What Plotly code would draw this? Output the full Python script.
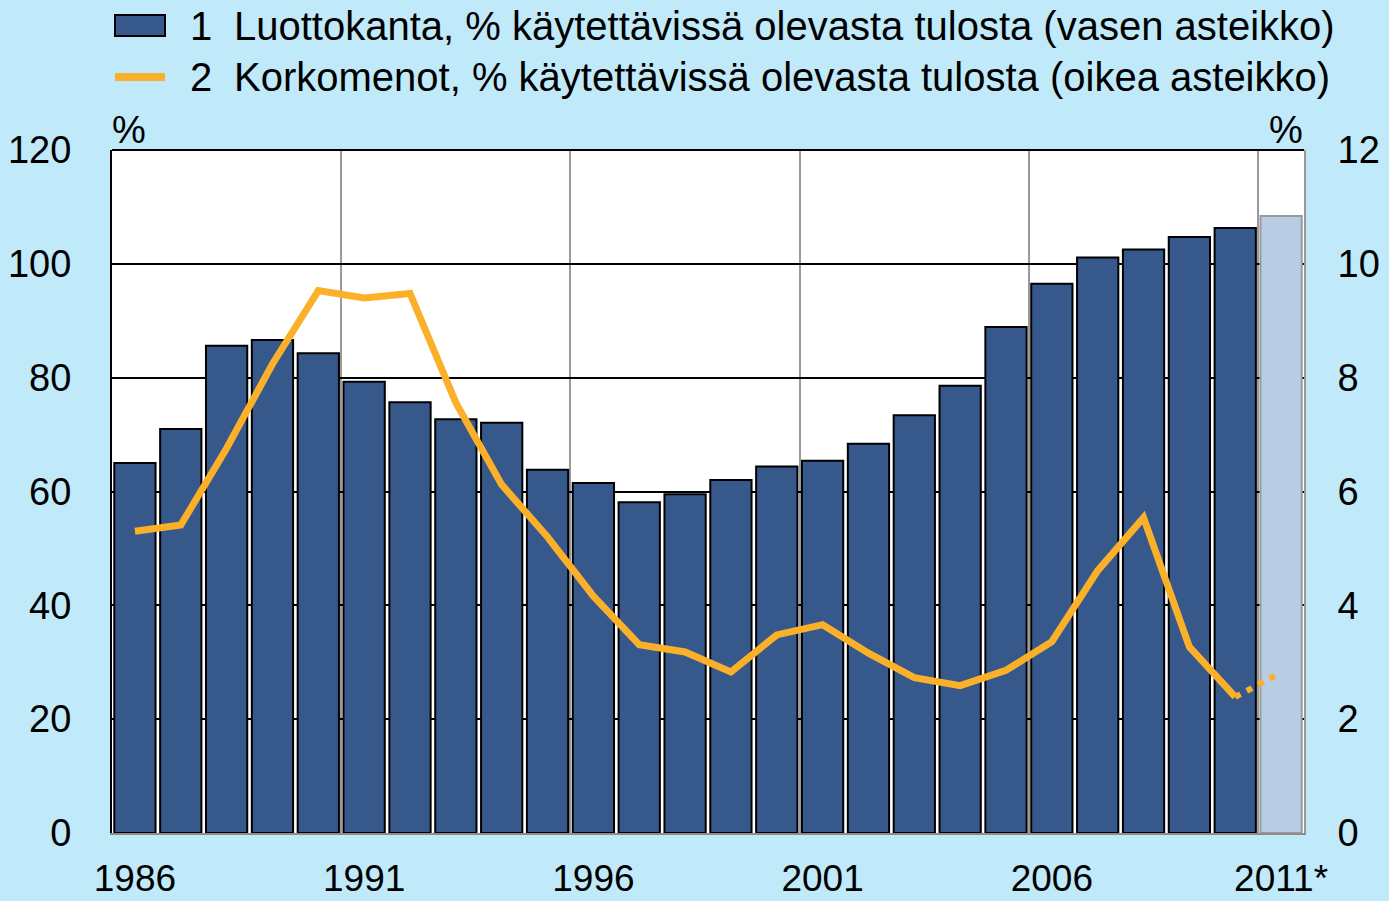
import plotly.graph_objects as go

years = list(range(1986, 2012))
luottokanta = [65.0, 71.0, 85.6, 86.6, 84.3, 79.3, 75.7, 72.7, 72.1, 63.8,
               61.5, 58.1, 59.5, 62.0, 64.4, 65.4, 68.4, 73.4, 78.6, 88.9,
               96.5, 101.1, 102.5, 104.7, 106.3, 108.4]
korkomenot = [5.30, 5.41, 6.76, 8.24, 9.53, 9.40, 9.48, 7.56, 6.12, 5.20,
              4.16, 3.31, 3.18, 2.83, 3.48, 3.66, 3.16, 2.73, 2.59, 2.86,
              3.36, 4.61, 5.54, 3.27, 2.39]
korkomenot_ennuste = [2.39, 2.82]
ennuste_years = [2010, 2011]
tick_years = [1986, 1991, 1996, 2001, 2006, 2011]
tick_text = ["1986", "1991", "1996", "2001", "2006", "2011*"]
left_ticks = [0, 20, 40, 60, 80, 100, 120]
right_ticks = [0, 2, 4, 6, 8, 10, 12]
legend_1 = "Luottokanta, % käytettävissä olevasta tulosta (vasen asteikko)"
legend_2 = "Korkomenot, % käytettävissä olevasta tulosta (oikea asteikko)"

BAR = "#36588b"
BAR_FC = "#b8cce4"
ORANGE = "#fbb02a"
BG = "#c0e9f9"
FONT = "Liberation Sans, Arial, sans-serif"

bar_colors = [BAR if y < 2011 else BAR_FC for y in years]
bar_lines = ["#000000" if y < 2011 else "#9a9a9a" for y in years]

fig = go.Figure()
fig.add_trace(go.Bar(
    x=years, y=luottokanta, marker=dict(color=bar_colors, line=dict(color=bar_lines, width=2)),
    width=0.9, yaxis="y", showlegend=False))
fig.add_trace(go.Scatter(
    x=years[:len(korkomenot)], y=korkomenot, mode="lines", yaxis="y2",
    line=dict(color=ORANGE, width=7), showlegend=False))
fig.add_trace(go.Scatter(
    x=ennuste_years, y=korkomenot_ennuste, mode="lines", yaxis="y2",
    line=dict(color=ORANGE, width=6, dash="6px,7px"), showlegend=False))

L, R, T, B = 112, 85, 150, 68
W, H = 1389, 901
pw, ph = W - L - R, H - T - B

def px(x):
    return (x - L) / pw

def py(y):
    return (H - B - y) / ph

fig.update_layout(
    width=W, height=H, autosize=False,
    margin=dict(l=L, r=R, t=T, b=B, pad=0),
    paper_bgcolor=BG, plot_bgcolor="white",
    font=dict(family=FONT, size=38, color="black"),
    bargap=0.1,
    xaxis=dict(range=[1985.5, 2011.5], tickmode="array", tickvals=tick_years, ticktext=tick_text,
               showgrid=False, ticks="", showline=True, linecolor="#8c8c8c", linewidth=2,
               ticklabelstandoff=12, zeroline=False, automargin=False,
               tickfont=dict(size=37),
               minor=dict(tickmode="array", tickvals=[1990.5, 1995.5, 2000.5, 2005.5, 2010.5],
                          showgrid=True, gridcolor="#9a9a9a", gridwidth=1.5, ticks="")),
    yaxis=dict(range=[0, 120], tickvals=left_ticks, showgrid=True, gridcolor="black", gridwidth=1.5,
               zeroline=False, showline=True, linecolor="black", linewidth=2, ticks="",
               ticklabelstandoff=31, automargin=False),
    yaxis2=dict(range=[0, 12], tickvals=right_ticks, overlaying="y", side="right", showgrid=False,
                zeroline=False, showline=True, linecolor="#9a9a9a", linewidth=2, ticks="",
                ticklabelstandoff=24, automargin=False),
    shapes=[
        dict(type="line", xref="paper", yref="paper", x0=0, x1=1, y0=1, y1=1,
             line=dict(color="black", width=2)),
        dict(type="rect", xref="paper", yref="paper", x0=px(115), x1=px(165), y0=py(36), y1=py(15),
             fillcolor=BAR, line=dict(color="black", width=2)),
        dict(type="line", xref="paper", yref="paper", x0=px(115), x1=px(165), y0=py(77), y1=py(77),
             line=dict(color=ORANGE, width=8)),
    ],
    annotations=[
        dict(text="1", x=px(188), y=py(26), xref="paper", yref="paper", xanchor="left",
             yanchor="middle", showarrow=False, font=dict(size=40)),
        dict(text=legend_1, x=px(232), y=py(26), xref="paper", yref="paper", xanchor="left",
             yanchor="middle", showarrow=False, font=dict(size=40)),
        dict(text="2", x=px(188), y=py(77), xref="paper", yref="paper", xanchor="left",
             yanchor="middle", showarrow=False, font=dict(size=40)),
        dict(text=legend_2, x=px(232), y=py(77), xref="paper", yref="paper", xanchor="left",
             yanchor="middle", showarrow=False, font=dict(size=40)),
        dict(text="%", x=px(129), y=py(130), xref="paper", yref="paper", xanchor="center",
             yanchor="middle", showarrow=False, font=dict(size=38)),
        dict(text="%", x=px(1286), y=py(130), xref="paper", yref="paper", xanchor="center",
             yanchor="middle", showarrow=False, font=dict(size=38)),
    ],
)

post = ("document.body.style.margin='0';document.body.style.overflow='hidden';"
        "document.body.style.background='" + BG + "';"
        "var gd=document.getElementById('{plot_id}');"
        "Plotly.relayout(gd,{width:" + str(W) + ",height:" + str(H) + "});")

fig.write_html("out.html", post_script=post, config={"displayModeBar": False})
